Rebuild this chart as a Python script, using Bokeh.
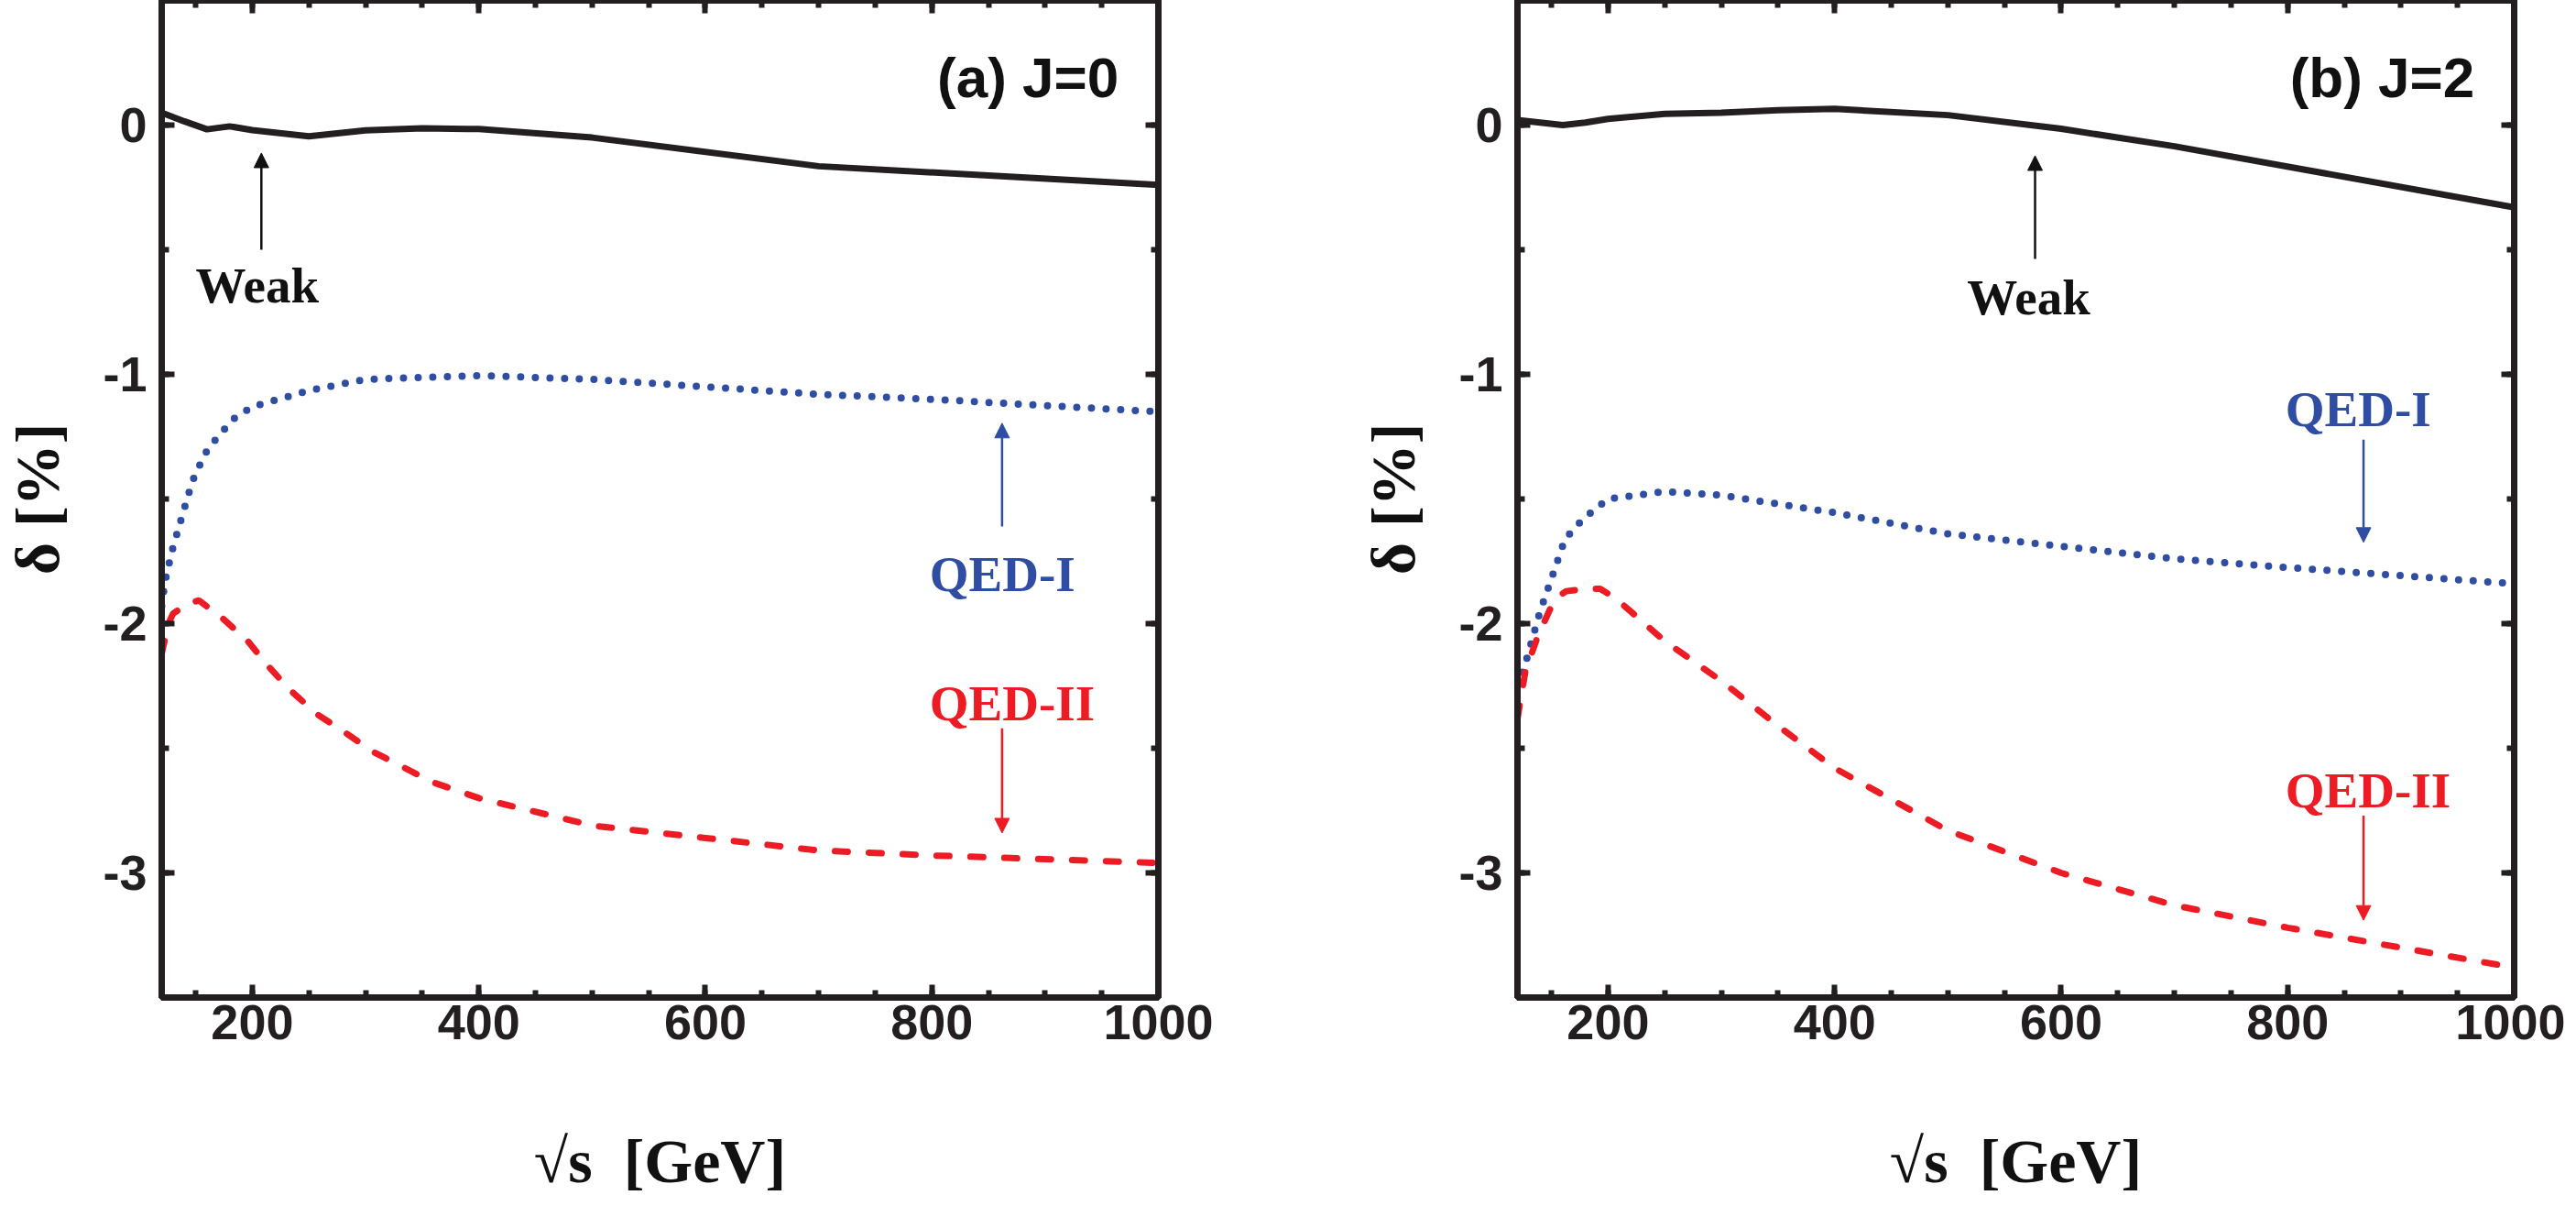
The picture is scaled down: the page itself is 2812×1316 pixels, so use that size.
from bokeh.plotting import figure
from bokeh.layouts import row
from bokeh.models import Range1d, LinearAxis, SingleIntervalTicker, Arrow, NormalHead
from bokeh.core.properties import value
from bokeh.embed import file_html
from bokeh.resources import INLINE

# delta [%] against sqrt(s) [GeV]
# (a) J=0
x_weak_a = [120, 140, 160, 180, 200, 250, 300, 350, 400, 500, 700, 1000]
weak_a = [0.05, 0.015, -0.017, -0.005, -0.02, -0.045, -0.021, -0.013, -0.016, -0.05, -0.165, -0.24]

x_qed1_a = [120, 123, 129, 136, 147, 158, 166, 183, 200, 250, 300, 400, 500, 700, 800, 1000]
qed1_a = [-1.93, -1.83, -1.71, -1.60, -1.43, -1.32, -1.27, -1.18, -1.13, -1.065, -1.02, -1.005,
          -1.02, -1.08, -1.10, -1.15]

x_qed2_a = [120, 126, 130, 143, 153, 174, 196, 214, 233, 257, 283, 307, 335, 359, 400, 500, 600,
            700, 800, 1000]
qed2_a = [-2.12, -2.0, -1.96, -1.92, -1.907, -1.98, -2.07, -2.17, -2.265, -2.363, -2.44, -2.515,
          -2.58, -2.636, -2.70, -2.81, -2.86, -2.91, -2.93, -2.96]

# (b) J=2
x_weak_b = [120, 140, 160, 180, 200, 250, 300, 350, 400, 500, 600, 700, 1000]
weak_b = [0.02, 0.01, 0.0, 0.01, 0.025, 0.045, 0.05, 0.06, 0.065, 0.04, -0.015, -0.085, -0.33]

x_qed1_b = [120, 127, 140, 153, 162, 178, 200, 250, 300, 350, 400, 500, 600, 700, 800, 1000]
qed1_b = [-2.25, -2.16, -1.95, -1.78, -1.66, -1.58, -1.50, -1.47, -1.485, -1.52, -1.555, -1.64,
          -1.69, -1.74, -1.775, -1.84]

x_qed2_b = [120, 127, 138, 153, 163, 180, 193, 207, 250, 300, 350, 400, 500, 600, 700, 800, 1000]
qed2_b = [-2.38, -2.19, -2.05, -1.90, -1.87, -1.86, -1.86, -1.90, -2.07, -2.23, -2.41, -2.58,
          -2.83, -3.0, -3.13, -3.22, -3.38]

x_ticks = [200, 400, 600, 800, 1000]
x_tick_labels = ["200", "400", "600", "800", "1000"]
y_ticks = [0, -1, -2, -3]
y_tick_labels = ["0", "-1", "-2", "-3"]

INK = "#231f20"
BLUE = "#2f4ea3"
RED = "#ed1c24"


def style_axis(ax, ticker, labels):
    ax.ticker = ticker
    ax.axis_line_width = 7
    ax.axis_line_color = INK
    ax.major_tick_in = 14
    ax.major_tick_out = 0
    ax.minor_tick_in = 8
    ax.minor_tick_out = 0
    ax.major_tick_line_width = 6
    ax.minor_tick_line_width = 6
    ax.major_tick_line_color = INK
    ax.minor_tick_line_color = INK
    ax.major_label_text_font = "Liberation Sans"
    ax.major_label_text_font_style = "bold"
    if labels:
        ax.major_label_text_color = INK
        ax.major_label_text_font_size = "54px"
    else:
        # mirror axis: ticks only
        ax.major_label_text_color = None
        ax.major_label_text_font_size = "0px"
        ax.major_label_standoff = 0


def panel(curves, notes, tag, left_border, right_border):
    p = figure(frame_width=1088, frame_height=1088,
               x_range=Range1d(120, 1000), y_range=Range1d(-3.5, 0.5),
               output_backend="svg", toolbar_location=None,
               min_border_left=left_border, min_border_right=right_border,
               min_border_top=0, min_border_bottom=212,
               background_fill_color="white", border_fill_color="white")
    p.xgrid.visible = False
    p.ygrid.visible = False
    p.outline_line_color = INK
    p.outline_line_width = 7

    xt = SingleIntervalTicker(interval=200, num_minor_ticks=4)
    yt = SingleIntervalTicker(interval=1, num_minor_ticks=2)
    p.add_layout(LinearAxis(), "above")
    p.add_layout(LinearAxis(), "right")
    style_axis(p.below[0], xt, True)
    style_axis(p.left[0], yt, True)
    style_axis(p.above[0], xt, False)
    style_axis(p.right[0], yt, False)

    p.below[0].major_label_overrides = dict(zip(x_ticks, x_tick_labels))
    p.left[0].major_label_overrides = dict(zip(y_ticks, y_tick_labels))
    p.below[0].major_label_standoff = 8
    p.left[0].major_label_standoff = 16

    p.below[0].axis_label = "√s \u00a0[GeV]"
    p.left[0].axis_label = "δ [%]"
    for ax in (p.below[0], p.left[0]):
        ax.axis_label_text_font = "Liberation Serif"
        ax.axis_label_text_font_style = "bold"
        ax.axis_label_text_font_size = "68px"
        ax.axis_label_text_color = "#111111"
    p.below[0].axis_label_standoff = 92
    p.left[0].axis_label_standoff = 30

    (xw, yw), (x1, y1), (x2, y2) = curves
    p.line(xw, yw, line_color=INK, line_width=7)
    p.line(x1, y1, line_color=BLUE, line_width=8, line_dash="0 16", line_cap="round")
    p.line(x2, y2, line_color=RED, line_width=7, line_dash="14 23", line_cap="round")

    for label, color, tx, ty, ax_x, ay0, ay1 in notes:
        p.text(x=[tx], y=[ty], text=[label], text_color=color,
               text_font=value("Liberation Serif"), text_font_style="bold",
               text_font_size="55px", text_align="left", text_baseline="alphabetic")
        p.add_layout(Arrow(end=NormalHead(size=16, fill_color=color, line_color=color, line_width=1),
                           x_start=ax_x, y_start=ay0, x_end=ax_x, y_end=ay1,
                           line_color=color, line_width=2.5))

    p.text(x=[965], y=[0.19], text=[tag], text_color="#111111",
           text_font=value("Liberation Sans"), text_font_style="bold",
           text_font_size="62px", text_align="right", text_baseline="alphabetic")
    return p


notes_a = [
    ("Weak", "#111111", 150, -0.645, 208, -0.50, -0.112),
    ("QED-I", BLUE, 798, -1.80, 862, -1.61, -1.196),
    ("QED-II", RED, 798, -2.32, 862, -2.42, -2.84),
]
notes_b = [
    ("Weak", "#111111", 517, -0.69, 577, -0.537, -0.123),
    ("QED-I", BLUE, 798, -1.14, 867, -1.262, -1.674),
    ("QED-II", RED, 798, -2.67, 867, -2.77, -3.19),
]

p1 = panel([(x_weak_a, weak_a), (x_qed1_a, qed1_a), (x_qed2_a, qed2_a)], notes_a, "(a) J=0", 172, 112)
p2 = panel([(x_weak_b, weak_b), (x_qed1_b, qed1_b), (x_qed2_b, qed2_b)], notes_b, "(b) J=2", 280, 56)

layout = row(p1, p2)

open("out.html", "w").write(file_html(layout, INLINE))
